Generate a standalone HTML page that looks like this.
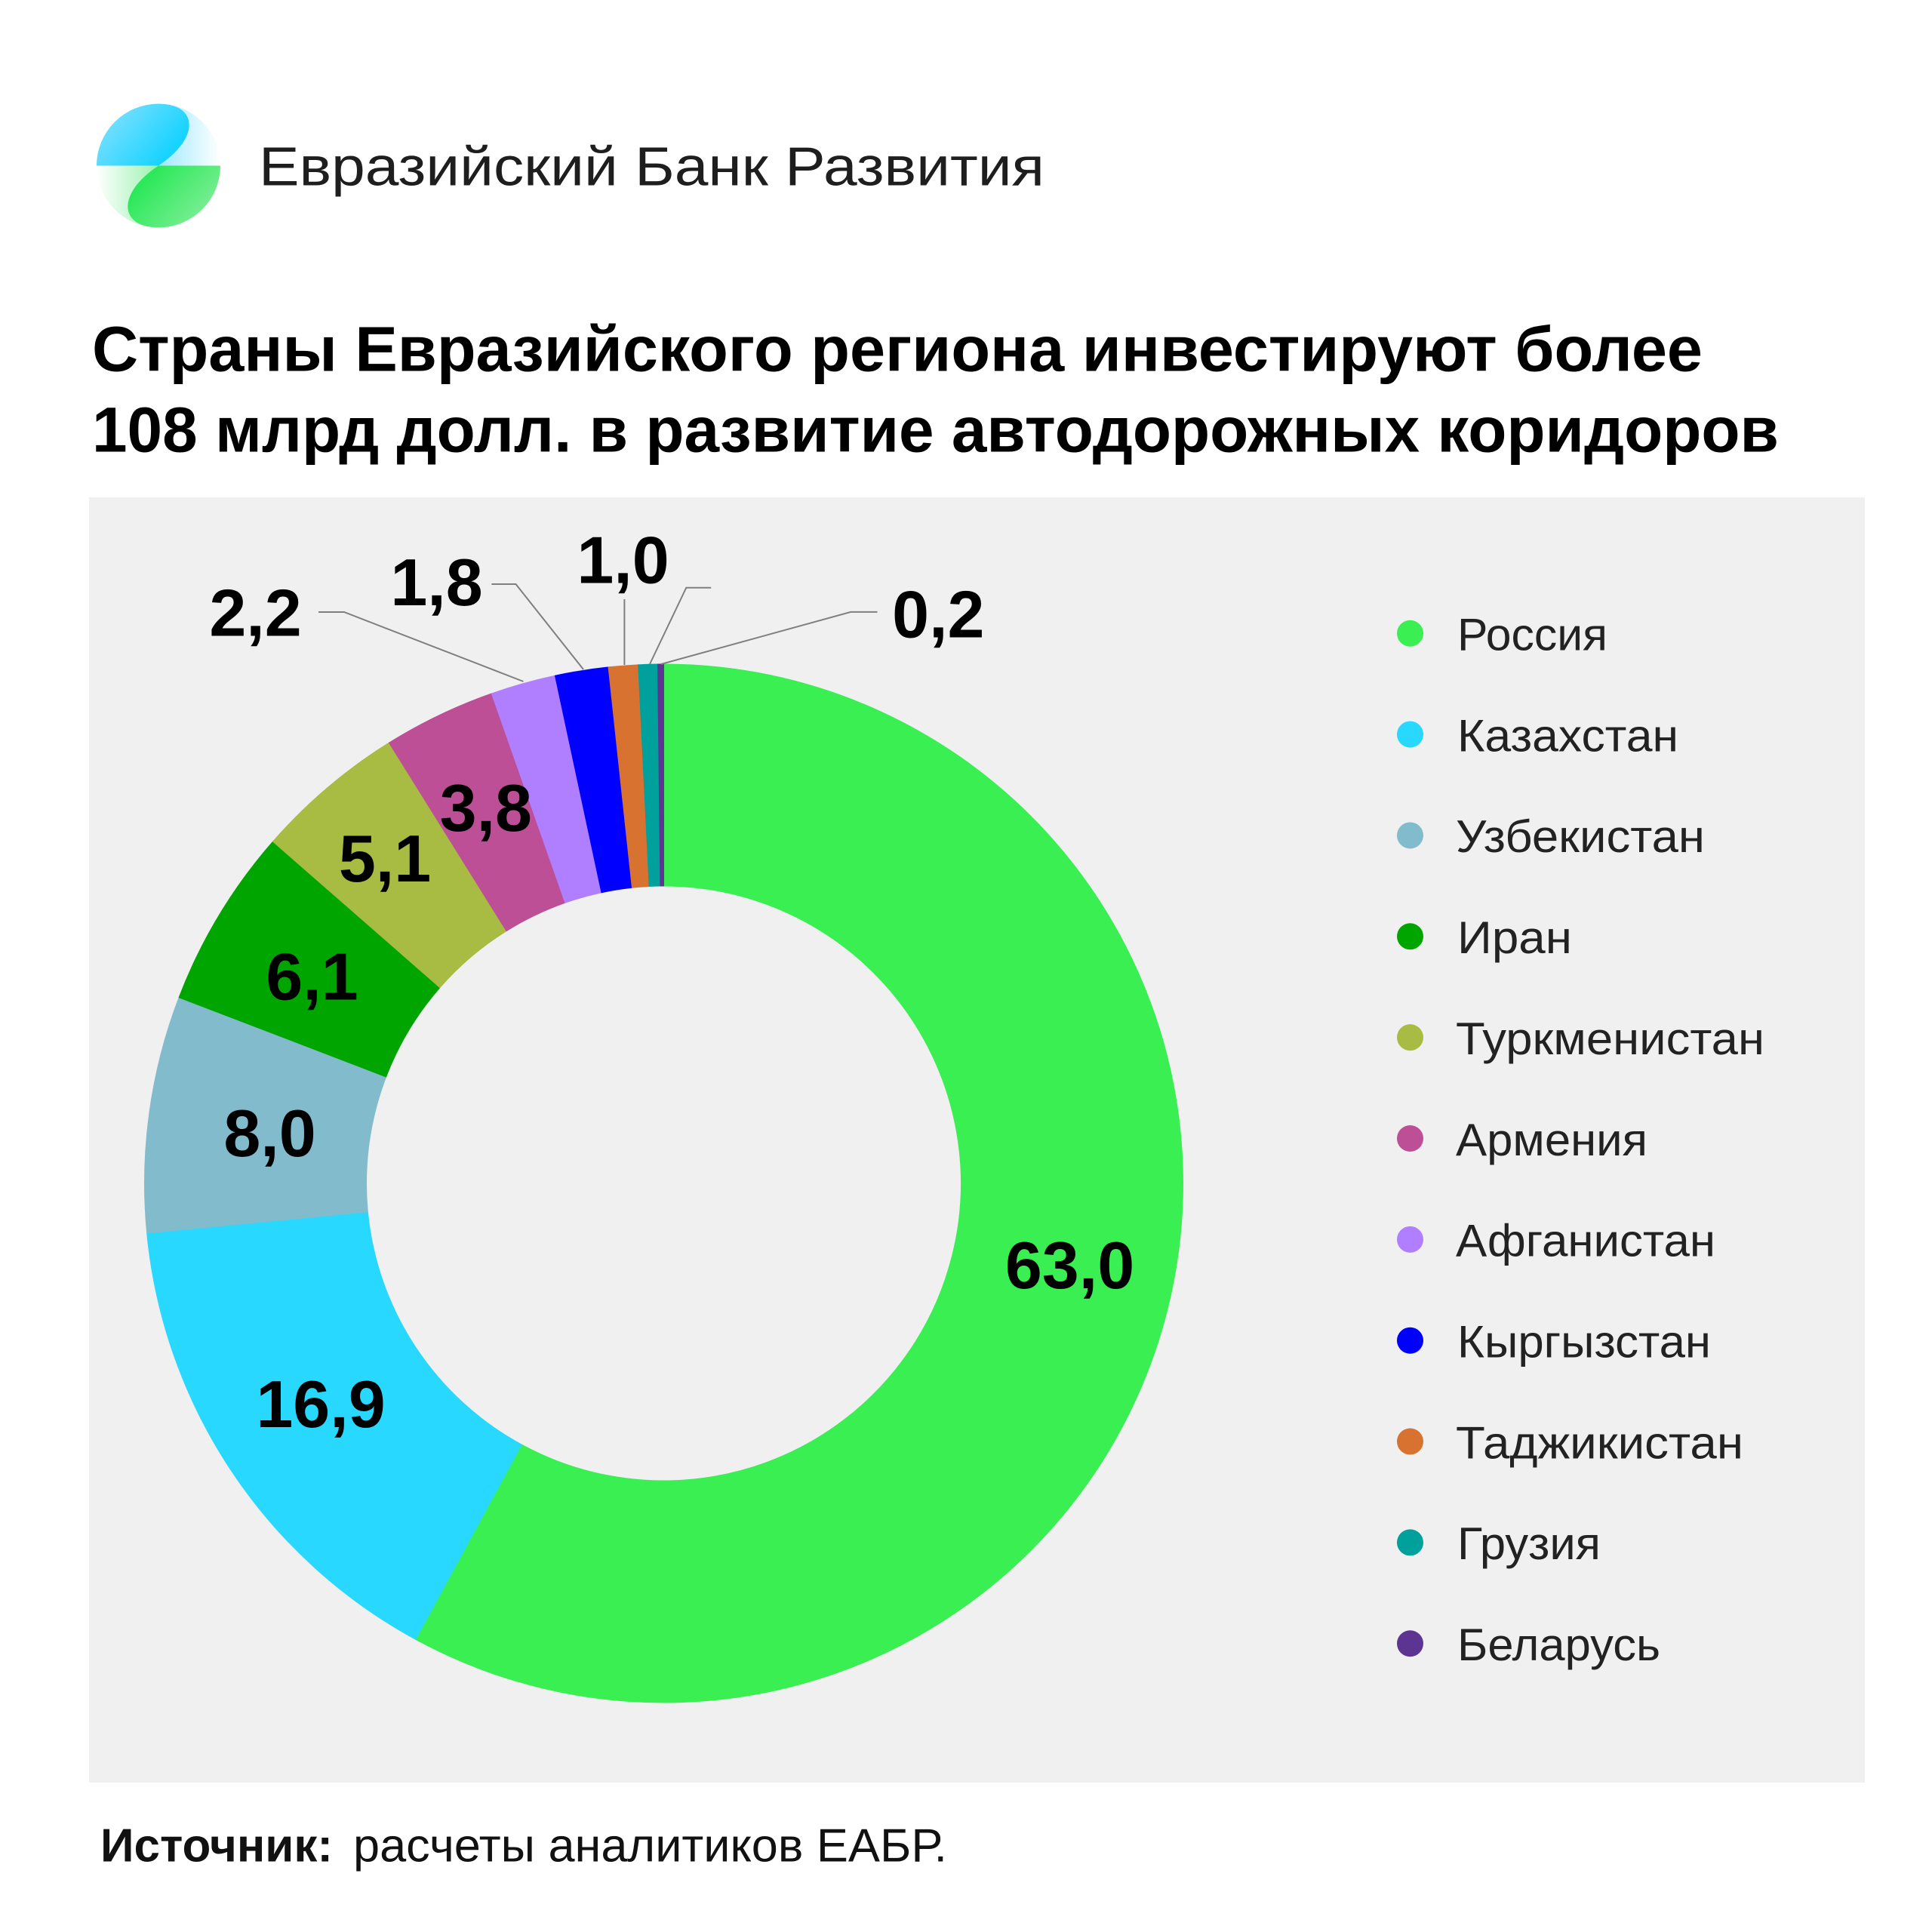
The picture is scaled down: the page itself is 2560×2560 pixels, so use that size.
<!DOCTYPE html>
<html>
<head>
<meta charset="utf-8">
<style>
html,body{margin:0;padding:0;background:#fff;}
svg{display:block;}
</style>
</head>
<body>
<svg width="2560" height="2560" viewBox="0 0 2560 2560" xmlns="http://www.w3.org/2000/svg">
<defs>
  <clipPath id="logoClip"><circle cx="210" cy="219.5" r="82"/></clipPath>
  <linearGradient id="topFade" x1="200" y1="0" x2="292" y2="0" gradientUnits="userSpaceOnUse">
    <stop offset="0" stop-color="#8fe6ff"/>
    <stop offset="1" stop-color="#ffffff"/>
  </linearGradient>
  <linearGradient id="botFade" x1="220" y1="0" x2="128" y2="0" gradientUnits="userSpaceOnUse">
    <stop offset="0" stop-color="#8ef0a4"/>
    <stop offset="1" stop-color="#ffffff"/>
  </linearGradient>
  <linearGradient id="cyanLeaf" x1="140" y1="150" x2="215" y2="215" gradientUnits="userSpaceOnUse">
    <stop offset="0" stop-color="#7fe0ff"/>
    <stop offset="1" stop-color="#16d3ff"/>
  </linearGradient>
  <linearGradient id="greenLeaf" x1="205" y1="225" x2="280" y2="295" gradientUnits="userSpaceOnUse">
    <stop offset="0" stop-color="#2ce85a"/>
    <stop offset="1" stop-color="#86ef9c"/>
  </linearGradient>
</defs>

<rect x="0" y="0" width="2560" height="2560" fill="#ffffff"/>

<!-- Logo -->
<g clip-path="url(#logoClip)">
  <rect x="128" y="137" width="164" height="82.5" fill="url(#topFade)"/>
  <rect x="128" y="219.5" width="164" height="82.5" fill="url(#botFade)"/>
  <path d="M128,219.5 A82,82 0 0 1 222,138.4 C262,145 262,185 210,219.5 Z" fill="url(#cyanLeaf)"/>
  <path d="M292,219.5 A82,82 0 0 1 198,300.6 C158,294 158,254 210,219.5 Z" fill="url(#greenLeaf)"/>
</g>

<text x="343" y="245.5" font-family="Liberation Sans, sans-serif" font-size="72" fill="#1e1e1e" textLength="1041" lengthAdjust="spacingAndGlyphs">Евразийский Банк Развития</text>

<!-- Title -->
<text x="122" y="491.7" font-family="Liberation Sans, sans-serif" font-weight="bold" font-size="84" fill="#000" textLength="2134" lengthAdjust="spacingAndGlyphs">Страны Евразийского региона инвестируют более</text>
<text x="122" y="598.3" font-family="Liberation Sans, sans-serif" font-weight="bold" font-size="84" fill="#000" textLength="2235" lengthAdjust="spacingAndGlyphs">108 млрд долл. в развитие автодорожных коридоров</text>

<!-- Chart panel -->
<rect x="118" y="659" width="2353" height="1703" fill="#f0f0f0"/>

<!-- Donut -->
<g stroke-width="1">
  <!-- Russia -->
  <path d="M879.5,880 A688,688 0 1 1 550.62,2172.30 L691.16,1914.07 A394,394 0 1 0 879.5,1174 Z" fill="#39ef52" stroke="#39ef52"/>
  <!-- Kazakhstan -->
  <path d="M550.62,2172.30 A688,688 0 0 1 194.67,1633.98 L487.32,1605.78 A394,394 0 0 0 691.16,1914.07 Z" fill="#28d8ff" stroke="#28d8ff"/>
  <!-- Uzbekistan -->
  <path d="M194.67,1633.98 A688,688 0 0 1 237.11,1321.68 L511.62,1426.94 A394,394 0 0 0 487.32,1605.78 Z" fill="#82bbcc" stroke="#82bbcc"/>
  <!-- Iran -->
  <path d="M237.11,1321.68 A688,688 0 0 1 361.58,1115.11 L582.90,1308.64 A394,394 0 0 0 511.62,1426.94 Z" fill="#00a500" stroke="#00a500"/>
  <!-- Turkmenistan -->
  <path d="M361.58,1115.11 A688,688 0 0 1 515.47,984.19 L671.03,1233.67 A394,394 0 0 0 582.90,1308.64 Z" fill="#a8bb42" stroke="#a8bb42"/>
  <!-- Armenia -->
  <path d="M515.47,984.19 A688,688 0 0 1 651.35,918.91 L748.85,1196.28 A394,394 0 0 0 671.03,1233.67 Z" fill="#bd4f96" stroke="#bd4f96"/>
  <!-- Afghanistan -->
  <path d="M651.35,918.91 A688,688 0 0 1 735.48,895.24 L797.02,1182.73 A394,394 0 0 0 748.85,1196.28 Z" fill="#b07fff" stroke="#b07fff"/>
  <!-- Kyrgyzstan -->
  <path d="M735.48,895.24 A688,688 0 0 1 806.10,883.93 L837.47,1176.25 A394,394 0 0 0 797.02,1182.73 Z" fill="#0000ff" stroke="#0000ff"/>
  <!-- Tajikistan -->
  <path d="M806.10,883.93 A688,688 0 0 1 845.72,880.83 L860.15,1174.48 A394,394 0 0 0 837.47,1176.25 Z" fill="#d87230" stroke="#d87230"/>
  <!-- Georgia -->
  <path d="M845.72,880.83 A688,688 0 0 1 871.55,880.05 L874.95,1174.03 A394,394 0 0 0 860.15,1174.48 Z" fill="#00a09c" stroke="#00a09c"/>
  <!-- Belarus -->
  <path d="M871.55,880.05 A688,688 0 0 1 879.5,880 L879.5,1174 A394,394 0 0 0 874.95,1174.03 Z" fill="#5c3491" stroke="#5c3491"/>
</g>

<!-- Leader lines -->
<g fill="none" stroke="#7f7f7f" stroke-width="2">
  <polyline points="422,811 456,811 693.5,903"/>
  <polyline points="651.4,774 683.5,774 773,887"/>
  <polyline points="827.4,794 827.4,881"/>
  <polyline points="942.2,778.7 909.3,778.7 861,880"/>
  <polyline points="1162.5,810.9 1127.3,810.9 876,880"/>
</g>

<!-- Data labels -->
<g font-family="Liberation Sans, sans-serif" font-weight="bold" font-size="88" fill="#000" text-anchor="middle">
  <text x="338.5" y="842.6">2,2</text>
  <text x="578.5" y="802">1,8</text>
  <text x="825.5" y="772.6">1,0</text>
  <text x="1243.3" y="844.6">0,2</text>
  <text x="643.8" y="1101">3,8</text>
  <text x="510" y="1168">5,1</text>
  <text x="413.5" y="1324.4">6,1</text>
  <text x="357.5" y="1532">8,0</text>
  <text x="425" y="1891">16,9</text>
  <text x="1417.5" y="1707">63,0</text>
</g>

<!-- Legend -->
<g>
  <circle cx="1868.5" cy="839.25" r="17.5" fill="#39ef52"/>
  <circle cx="1868.5" cy="973.1" r="17.5" fill="#28d8ff"/>
  <circle cx="1868.5" cy="1106.95" r="17.5" fill="#82bbcc"/>
  <circle cx="1868.5" cy="1240.8" r="17.5" fill="#00a500"/>
  <circle cx="1868.5" cy="1374.65" r="17.5" fill="#a8bb42"/>
  <circle cx="1868.5" cy="1508.5" r="17.5" fill="#bd4f96"/>
  <circle cx="1868.5" cy="1642.35" r="17.5" fill="#b07fff"/>
  <circle cx="1868.5" cy="1776.2" r="17.5" fill="#0000ff"/>
  <circle cx="1868.5" cy="1910.05" r="17.5" fill="#d87230"/>
  <circle cx="1868.5" cy="2043.9" r="17.5" fill="#00a09c"/>
  <circle cx="1868.5" cy="2177.75" r="17.5" fill="#5c3491"/>
</g>
<g font-family="Liberation Sans, sans-serif" font-size="60" fill="#222">
  <text x="1931" y="861.5" textLength="199" lengthAdjust="spacingAndGlyphs">Россия</text>
  <text x="1931" y="995.35" textLength="293" lengthAdjust="spacingAndGlyphs">Казахстан</text>
  <text x="1929" y="1129.2" textLength="330" lengthAdjust="spacingAndGlyphs">Узбекистан</text>
  <text x="1931" y="1263.05" textLength="152" lengthAdjust="spacingAndGlyphs">Иран</text>
  <text x="1929" y="1396.9" textLength="409" lengthAdjust="spacingAndGlyphs">Туркменистан</text>
  <text x="1929" y="1530.75" textLength="254" lengthAdjust="spacingAndGlyphs">Армения</text>
  <text x="1929" y="1664.6" textLength="344" lengthAdjust="spacingAndGlyphs">Афганистан</text>
  <text x="1931" y="1798.45" textLength="336" lengthAdjust="spacingAndGlyphs">Кыргызстан</text>
  <text x="1929" y="1932.3" textLength="381" lengthAdjust="spacingAndGlyphs">Таджикистан</text>
  <text x="1931" y="2066.15" textLength="190" lengthAdjust="spacingAndGlyphs">Грузия</text>
  <text x="1931" y="2200" textLength="269" lengthAdjust="spacingAndGlyphs">Беларусь</text>
</g>

<!-- Source -->
<text x="133" y="2466.7" font-family="Liberation Sans, sans-serif" font-weight="bold" font-size="62" fill="#111" textLength="308" lengthAdjust="spacingAndGlyphs">Источник:</text>
<text x="468" y="2466.7" font-family="Liberation Sans, sans-serif" font-size="62" fill="#111" textLength="787" lengthAdjust="spacingAndGlyphs">расчеты аналитиков ЕАБР.</text>
</svg>
</body>
</html>
